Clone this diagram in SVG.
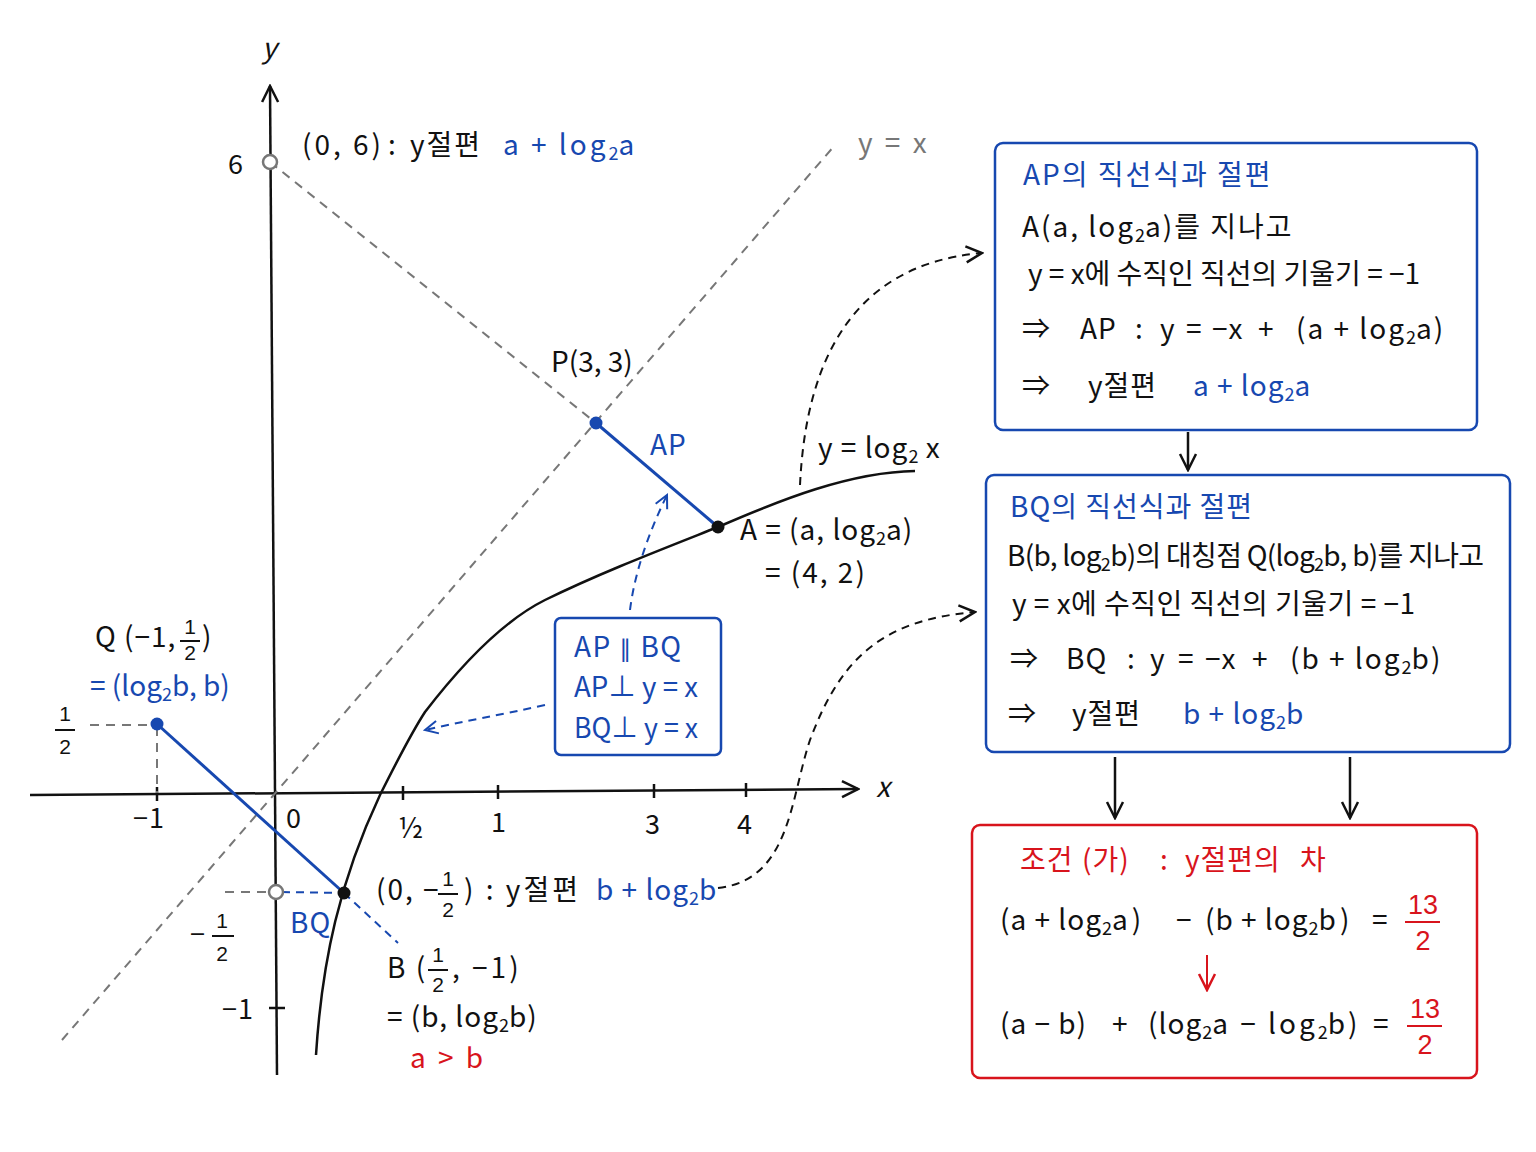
<svg xmlns="http://www.w3.org/2000/svg" width="1536" height="1152" viewBox="0 0 1536 1152">
<style>
text{font-family:"Noto Sans CJK KR","Noto Sans",sans-serif;font-size:28px;fill:#111;letter-spacing:1px}
.b{fill:#1748b0}
.r{fill:#d8141c}
.g{fill:#777}
.s{font-size:18px;letter-spacing:0}
.m{font-size:27px}
.f{font-family:"Liberation Sans",sans-serif;font-size:21px;letter-spacing:0}
.fr{font-family:"Liberation Sans",sans-serif;font-size:27px;letter-spacing:0}
.w0{letter-spacing:0}
.w2{letter-spacing:2px}
.w3{letter-spacing:3px}
.ax{stroke:#111;stroke-width:2.5;fill:none}
.gd{stroke:#777;stroke-width:2;stroke-dasharray:9 7;fill:none}
.bd{stroke:#1748b0;stroke-width:2;stroke-dasharray:8 6;fill:none}
.kd{stroke:#111;stroke-width:2;stroke-dasharray:8 6;fill:none}
.box{fill:#fff;stroke-width:2.5}
</style>
<defs>
<marker id="ak" viewBox="0 0 20 20" refX="18" refY="10" markerWidth="20" markerHeight="20" markerUnits="userSpaceOnUse" orient="auto"><path d="M2,2 L18,10 L2,18" fill="none" stroke="#111" stroke-width="2.5"/></marker>
<marker id="ab" viewBox="0 0 20 20" refX="18" refY="10" markerWidth="16" markerHeight="16" markerUnits="userSpaceOnUse" orient="auto"><path d="M2,2 L18,10 L2,18" fill="none" stroke="#1748b0" stroke-width="2.5"/></marker>
<marker id="ar" viewBox="0 0 20 20" refX="18" refY="10" markerWidth="20" markerHeight="20" markerUnits="userSpaceOnUse" orient="auto"><path d="M2,2 L18,10 L2,18" fill="none" stroke="#d8141c" stroke-width="2.5"/></marker>
</defs>
<rect width="1536" height="1152" fill="#fff"/>

<g id="axes">
<line class="ax" x1="277" y1="1075" x2="270" y2="86" marker-end="url(#ak)"/>
<line class="ax" x1="30" y1="795" x2="858" y2="789" marker-end="url(#ak)"/>
<text x="262" y="58" font-style="italic" font-size="34">y</text>
<text x="876" y="797" font-style="italic" font-size="34">x</text>
<g class="ax" stroke-width="2">
<line x1="157" y1="787" x2="157" y2="801"/>
<line x1="403" y1="786" x2="403" y2="800"/>
<line x1="498" y1="785" x2="498" y2="799"/>
<line x1="654" y1="784" x2="654" y2="798"/>
<line x1="746" y1="783" x2="746" y2="797"/>
<line x1="269" y1="1008" x2="285" y2="1008"/>
</g>
<text x="133" y="828" class="m">−1</text>
<text x="286" y="828" class="m">0</text>
<text x="398" y="838" font-size="30">½</text>
<text x="491" y="832" class="m">1</text>
<text x="645" y="834" class="m">3</text>
<text x="737" y="834" class="m">4</text>
<text x="228" y="174" class="m">6</text>
<text x="222" y="1019" class="m">−1</text>
<text x="65" y="721" class="f" text-anchor="middle">1</text>
<line x1="55" y1="730" x2="75" y2="730" stroke="#111" stroke-width="2"/>
<text x="65" y="754" class="f" text-anchor="middle">2</text>
<text x="190" y="944" class="m">−</text>
<text x="222" y="928" class="f" text-anchor="middle">1</text>
<line x1="212" y1="936" x2="234" y2="936" stroke="#111" stroke-width="2"/>
<text x="222" y="961" class="f" text-anchor="middle">2</text>
</g>

<g id="guides">
<line class="gd" x1="62" y1="1040" x2="835" y2="145"/>
<line class="gd" x1="270" y1="162" x2="596" y2="423"/>
<line class="gd" x1="90" y1="725" x2="155" y2="725"/>
<line class="gd" x1="157" y1="727" x2="157" y2="793"/>
<line class="gd" x1="225" y1="892" x2="270" y2="892"/>
<text x="858" y="153" class="g w3">y = x</text>
</g>

<g id="curve">
<path class="ax" stroke-width="3" d="M316,1055 C322,960 340,880 380,795 C395,765 410,735 425,712 C465,660 505,620 545,600 C600,573 660,550 718,527 C780,500 850,472 915,471"/>
<text x="818" y="458">y = log<tspan class="s" dy="5">2</tspan><tspan dy="-5"> x</tspan></text>
</g>

<g id="segments">
<line x1="157" y1="724" x2="344" y2="893" stroke="#1748b0" stroke-width="3"/>
<line class="bd" x1="344" y1="893" x2="398" y2="943"/>
<line class="bd" x1="282" y1="892" x2="344" y2="893"/>
<line x1="596" y1="423" x2="718" y2="527" stroke="#1748b0" stroke-width="3"/>
<text x="650" y="455" class="b" font-size="30">AP</text>
<text x="290" y="933" class="b">BQ</text>
</g>

<g id="points">
<circle cx="270" cy="162" r="7" fill="#fff" stroke="#777" stroke-width="2.5"/>
<circle cx="276" cy="892" r="7" fill="#fff" stroke="#777" stroke-width="2.5"/>
<circle cx="157" cy="724" r="6.5" fill="#1748b0"/>
<circle cx="596" cy="423" r="6.5" fill="#1748b0"/>
<circle cx="344" cy="893" r="6.5" fill="#111"/>
<circle cx="718" cy="527" r="6.5" fill="#111"/>
</g>

<g id="point-labels">
<text x="302" y="155" class="w3">(0, 6)</text>
<text x="388" y="155">:</text>
<text x="410" y="155" class="w2">y절편</text>
<text x="503" y="155" class="b w3">a + log<tspan class="s" dy="5">2</tspan><tspan dy="-5">a</tspan></text>
<text x="551" y="372" class="w0" font-size="27">P(3, 3)</text>
<text x="740" y="540">A = (a, log<tspan class="s" dy="5">2</tspan><tspan dy="-5">a)</tspan></text>
<text x="765" y="583" class="w2">= (4, 2)</text>
<text x="95" y="647">Q (−1,</text>
<text x="190" y="634" class="f" text-anchor="middle">1</text>
<line x1="180" y1="641" x2="200" y2="641" stroke="#111" stroke-width="2"/>
<text x="190" y="660" class="f" text-anchor="middle">2</text>
<text x="202" y="647">)</text>
<text x="90" y="696" class="b w0">= (log<tspan class="s" dy="5">2</tspan><tspan dy="-5">b, b)</tspan></text>
<text x="376" y="900" class="w2">(0, −</text>
<text x="448" y="886" class="f" text-anchor="middle">1</text>
<line x1="438" y1="894" x2="458" y2="894" stroke="#111" stroke-width="2"/>
<text x="448" y="917" class="f" text-anchor="middle">2</text>
<text x="464" y="900" class="w3">)  : y절편</text>
<text x="596" y="900" class="b">b + log<tspan class="s" dy="5">2</tspan><tspan dy="-5">b</tspan></text>
<text x="387" y="978" class="w2">B (</text>
<text x="438" y="962" class="f" text-anchor="middle">1</text>
<line x1="428" y1="970" x2="448" y2="970" stroke="#111" stroke-width="2"/>
<text x="438" y="992" class="f" text-anchor="middle">2</text>
<text x="452" y="978" class="w3">,  −1)</text>
<text x="387" y="1027">= (b, log<tspan class="s" dy="5">2</tspan><tspan dy="-5">b)</tspan></text>
<text x="410" y="1068" class="r w3">a &gt; b</text>
</g>

<g id="note-box">
<rect class="box" x="555" y="618" width="166" height="137" rx="6" stroke="#1748b0"/>
<text x="574" y="657" class="b" textLength="108" lengthAdjust="spacing">AP <tspan font-family="DejaVu Sans" font-size="24">∥</tspan> BQ</text>
<text x="574" y="697" class="b w0" textLength="124" lengthAdjust="spacingAndGlyphs">AP⊥ y = x</text>
<text x="574" y="738" class="b w0" textLength="124" lengthAdjust="spacingAndGlyphs">BQ⊥ y = x</text>
</g>

<g id="box-AP">
<rect class="box" x="995" y="143" width="482" height="287" rx="8" stroke="#1748b0"/>
<text x="1023" y="185" class="b w2">AP의 직선식과  절편</text>
<text x="1022" y="237" class="w2">A(a, log<tspan class="s" dy="5">2</tspan><tspan dy="-5">a)를  지나고</tspan></text>
<text x="1028" y="284" class="w0" textLength="392" lengthAdjust="spacing">y = x에  수직인  직선의  기울기  =  −1</text>
<text y="339"><tspan x="1022">⇒</tspan><tspan x="1080">AP</tspan><tspan x="1135">:</tspan><tspan x="1160">y</tspan><tspan x="1186">=</tspan><tspan x="1212">−x</tspan><tspan x="1258">+</tspan><tspan x="1296" letter-spacing="2">(a + log</tspan><tspan class="s" dy="5">2</tspan><tspan dy="-5" letter-spacing="2">a)</tspan></text>
<text y="396"><tspan x="1022">⇒</tspan><tspan x="1088">y절편</tspan></text>
<text x="1193" y="396" class="b" letter-spacing="6">a + log<tspan class="s" dy="5">2</tspan><tspan dy="-5">a</tspan></text>
</g>

<g id="box-BQ">
<rect class="box" x="986" y="475" width="524" height="277" rx="8" stroke="#1748b0"/>
<text x="1010" y="517" class="b">BQ의 직선식과  절편</text>
<text x="1007" y="566" class="w0" textLength="477" lengthAdjust="spacing">B(b, log<tspan class="s" dy="5">2</tspan><tspan dy="-5">b)의 대칭점 Q(log</tspan><tspan class="s" dy="5">2</tspan><tspan dy="-5">b, b)를 지나고</tspan></text>
<text x="1012" y="614" class="w0" textLength="403" lengthAdjust="spacing">y = x에  수직인  직선의  기울기  =  −1</text>
<text y="669"><tspan x="1010">⇒</tspan><tspan x="1066">BQ</tspan><tspan x="1127">:</tspan><tspan x="1150">y</tspan><tspan x="1178">=</tspan><tspan x="1205">−x</tspan><tspan x="1252">+</tspan><tspan x="1290" letter-spacing="2">(b + log</tspan><tspan class="s" dy="5">2</tspan><tspan dy="-5" letter-spacing="2">b)</tspan></text>
<text y="724"><tspan x="1008">⇒</tspan><tspan x="1072">y절편</tspan></text>
<text x="1183" y="724" class="b" letter-spacing="6">b + log<tspan class="s" dy="5">2</tspan><tspan dy="-5">b</tspan></text>
</g>

<g id="box-cond">
<rect class="box" x="972" y="825" width="505" height="253" rx="8" stroke="#d8141c"/>
<text y="870" class="r" letter-spacing="2"><tspan x="1020">조건</tspan><tspan x="1082">(가)</tspan><tspan x="1160">:</tspan><tspan x="1185">y절편의</tspan><tspan x="1300">차</tspan></text>
<text y="930" letter-spacing="4"><tspan x="1000">(a + log</tspan><tspan class="s" dy="5">2</tspan><tspan dy="-5" letter-spacing="4">a)</tspan><tspan x="1176">−</tspan><tspan x="1205">(b + log</tspan><tspan class="s" dy="5">2</tspan><tspan dy="-5" letter-spacing="4">b)</tspan><tspan x="1372">=</tspan></text>
<text x="1423" y="914" class="fr r" text-anchor="middle">13</text>
<line x1="1405" y1="922" x2="1440" y2="922" stroke="#d8141c" stroke-width="2"/>
<text x="1423" y="950" class="fr r" text-anchor="middle">2</text>
<text y="1034" letter-spacing="3"><tspan x="1000">(a − b)</tspan><tspan x="1112">+</tspan><tspan x="1148">(log</tspan><tspan class="s" dy="5">2</tspan><tspan dy="-5" letter-spacing="3">a − log</tspan><tspan class="s" dy="5">2</tspan><tspan dy="-5" letter-spacing="3">b)</tspan><tspan x="1373">=</tspan></text>
<text x="1425" y="1018" class="fr r" text-anchor="middle">13</text>
<line x1="1407" y1="1026" x2="1442" y2="1026" stroke="#d8141c" stroke-width="2"/>
<text x="1425" y="1054" class="fr r" text-anchor="middle">2</text>
</g>

<g id="connectors">
<path class="kd" d="M800,485 C805,380 840,265 982,253" marker-end="url(#ak)"/>
<path class="kd" d="M718,888 C790,880 790,800 810,740 C840,660 880,620 975,612" marker-end="url(#ak)"/>
<path class="bd" d="M630,610 C635,570 650,530 667,495" marker-end="url(#ab)"/>
<path class="bd" d="M545,705 C500,715 460,722 425,730" marker-end="url(#ab)"/>
<line class="ax" stroke-width="2" x1="1188" y1="432" x2="1188" y2="470" marker-end="url(#ak)"/>
<line class="ax" stroke-width="2" x1="1115" y1="757" x2="1115" y2="818" marker-end="url(#ak)"/>
<line class="ax" stroke-width="2" x1="1350" y1="757" x2="1350" y2="818" marker-end="url(#ak)"/>
<line stroke="#d8141c" stroke-width="2" x1="1207" y1="955" x2="1207" y2="990" marker-end="url(#ar)"/>
</g>
</svg>
